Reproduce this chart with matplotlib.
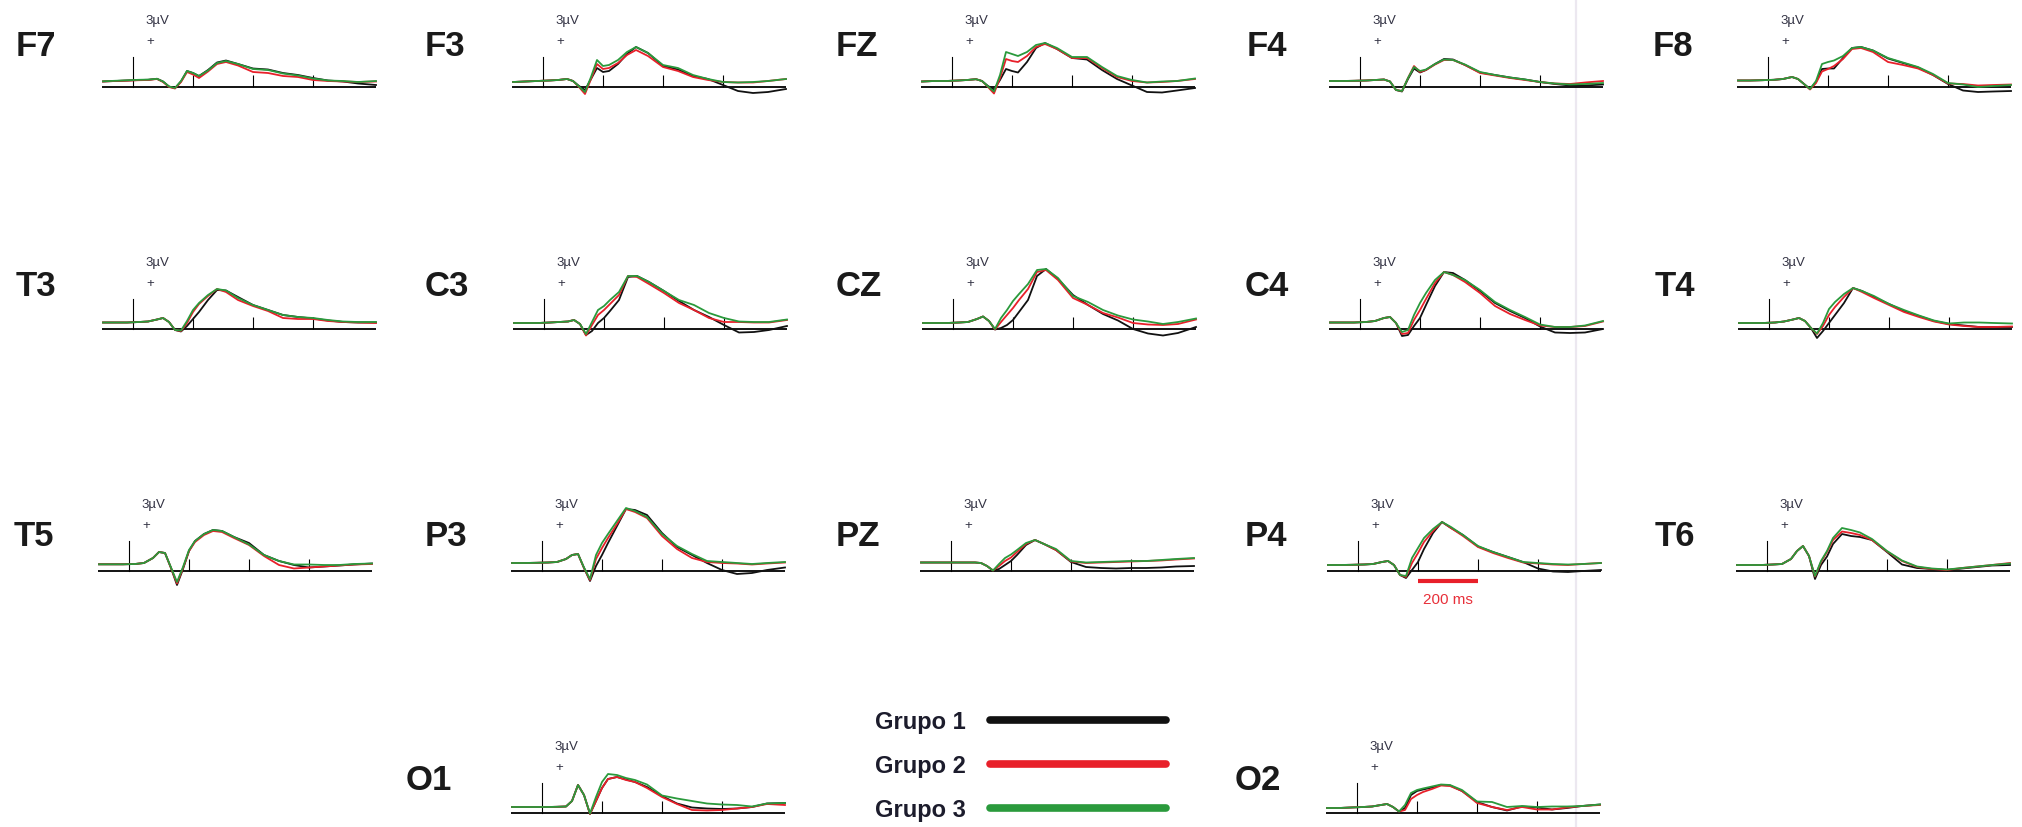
import matplotlib
matplotlib.use('Agg')
import matplotlib.pyplot as plt

W, H = 2022, 828
DPI = 100

# sample times (ms, relative to stimulus onset)
t_ms = [-100, -60, -20, 20, 50, 80, 100, 120, 140, 160, 180, 200, 220,
        250, 280, 310, 350, 400, 450, 500, 550, 600, 650, 700, 750, 810]

group_names = ['Grupo 1', 'Grupo 2', 'Grupo 3']
group_colors = ['#111111', '#e8202a', '#2a9a3c']

# grand-average ERPs in µV, one list per electrode
grupo1 = {
    'F7': [.55, .6, .65, .7, .72, .82, .55, .05, -.12, .55, 1.6, 1.4, 1.1, 1.7, 2.45, 2.65, 2.3, 1.85, 1.75, 1.4, 1.2, .9, .65, .55, .35, .2],
    'F3': [.5, .55, .6, .65, .7, .8, .6, .1, -.3, .8, 1.9, 1.5, 1.6, 2.3, 3.3, 4.0, 3.4, 2.1, 1.75, 1.1, .8, .2, -.4, -.6, -.5, -.2],
    'FZ': [.55, .6, .6, .65, .7, .78, .6, .1, -.25, .7, 1.8, 1.6, 1.45, 2.5, 3.9, 4.4, 3.8, 2.9, 2.75, 1.7, .8, .15, -.5, -.55, -.35, -.1],
    'F4': [.6, .6, .62, .65, .7, .75, .55, -.3, -.45, .8, 1.85, 1.45, 1.7, 2.3, 2.8, 2.75, 2.2, 1.45, 1.2, .95, .75, .5, .3, .15, .15, .25],
    'F8': [.65, .65, .68, .72, .8, 1.0, .8, .3, -.2, .5, 1.8, 1.85, 1.85, 2.9, 3.9, 4.0, 3.65, 2.85, 2.4, 1.95, 1.2, .3, -.35, -.5, -.45, -.4],
    'T3': [.65, .65, .65, .7, .75, .95, 1.1, .7, -.1, -.25, .3, 1.0, 1.7, 2.9, 3.9, 3.85, 3.2, 2.4, 1.9, 1.4, 1.2, 1.05, .85, .7, .65, .65],
    'C3': [.6, .6, .6, .65, .7, .75, .9, .5, -.6, -.2, .6, 1.1, 1.8, 2.9, 5.2, 5.3, 4.7, 3.8, 2.8, 1.9, 1.2, .4, -.35, -.3, -.1, .3],
    'CZ': [.6, .6, .6, .65, .7, 1.0, 1.25, .8, -.05, .1, .4, .9, 1.7, 2.9, 5.3, 6.0, 5.0, 3.4, 2.4, 1.5, .85, .0, -.45, -.65, -.4, .2],
    'C4': [.65, .65, .65, .7, .8, 1.1, 1.2, .6, -.7, -.6, .3, 1.1, 2.4, 4.3, 5.7, 5.6, 4.9, 3.8, 2.6, 1.8, 1.1, .25, -.35, -.4, -.35, 0],
    'T4': [.6, .6, .6, .65, .75, .95, 1.1, .8, .1, -.9, -.2, .6, 1.4, 2.6, 4.1, 3.8, 3.2, 2.5, 1.8, 1.3, .8, .5, .35, .2, .2, .2],
    'T5': [.67, .67, .67, .7, .8, 1.3, 1.9, 1.8, .3, -1.4, .2, 2.0, 3.0, 3.7, 4.1, 4.0, 3.4, 2.8, 1.6, 1.0, .6, .35, .45, .55, .65, .75],
    'P3': [.8, .8, .82, .85, .9, 1.2, 1.6, 1.7, .3, -1.0, .5, 1.6, 2.8, 4.5, 6.2, 6.1, 5.6, 3.8, 2.4, 1.6, .8, .1, -.3, -.2, .1, .35],
    'PZ': [.85, .85, .85, .85, .85, .85, .8, .5, .05, .2, .6, 1.0, 1.6, 2.6, 3.1, 2.7, 2.1, .9, .4, .3, .25, .3, .3, .35, .45, .5],
    'P4': [.6, .6, .62, .65, .7, .9, 1.0, .6, -.4, -.7, .1, .9, 2.2, 3.8, 4.9, 4.3, 3.6, 2.45, 1.9, 1.4, .9, .25, -.05, -.1, 0, .1],
    'T6': [.6, .6, .6, .65, .7, 1.2, 2.0, 2.5, 1.5, -.8, .6, 1.45, 2.7, 3.7, 3.5, 3.4, 3.1, 1.9, .65, .3, .2, .1, .25, .4, .55, .6],
    'O1': [.6, .6, .6, .6, .62, .65, 1.2, 2.8, 1.8, -.1, 1.2, 2.5, 3.4, 3.6, 3.35, 3.1, 2.6, 1.7, .95, .55, .45, .4, .45, .6, .95, 1.0],
    'O2': [.5, .5, .55, .6, .65, .8, .9, .6, .15, .5, 1.8, 2.2, 2.35, 2.55, 2.8, 2.75, 2.2, 1.1, .6, .25, .65, .55, .35, .5, .7, .85],
}
grupo2 = {
    'F7': [.55, .6, .63, .68, .7, .8, .5, .0, -.15, .5, 1.5, 1.25, .9, 1.55, 2.3, 2.5, 2.15, 1.5, 1.4, 1.1, 1.0, .7, .6, .55, .5, .55],
    'F3': [.5, .55, .6, .65, .7, .8, .6, .0, -.7, .8, 2.3, 1.8, 1.9, 2.4, 3.2, 3.7, 3.1, 2.0, 1.6, 1.0, .7, .5, .45, .45, .6, .8],
    'FZ': [.55, .6, .6, .65, .7, .78, .6, .0, -.65, .9, 2.8, 2.6, 2.5, 3.1, 4.0, 4.3, 3.8, 2.9, 2.9, 1.9, 1.0, .6, .45, .5, .6, .8],
    'F4': [.6, .6, .62, .65, .7, .75, .55, -.3, -.4, .9, 2.1, 1.5, 1.7, 2.25, 2.7, 2.7, 2.2, 1.4, 1.15, .9, .7, .5, .35, .3, .45, .6],
    'F8': [.65, .65, .68, .72, .8, 1.0, .8, .3, -.25, .4, 1.55, 1.8, 2.1, 2.8, 3.8, 3.9, 3.5, 2.5, 2.2, 1.85, 1.2, .35, .3, .15, .2, .25],
    'T3': [.65, .65, .65, .7, .75, .95, 1.1, .7, -.1, -.2, .6, 1.7, 2.5, 3.3, 4.0, 3.7, 2.9, 2.3, 1.8, 1.1, 1.0, 1.0, .8, .7, .65, .6],
    'C3': [.6, .6, .6, .65, .7, .75, .9, .5, -.65, .4, 1.4, 1.9, 2.5, 3.4, 5.3, 5.2, 4.5, 3.6, 2.6, 1.9, 1.1, .7, .7, .65, .65, .9],
    'CZ': [.6, .6, .6, .65, .7, 1.0, 1.25, .8, -.05, .7, 1.4, 2.1, 2.9, 4.0, 5.7, 5.9, 4.9, 3.1, 2.4, 1.6, 1.15, .6, .45, .4, .5, .95],
    'C4': [.65, .65, .65, .7, .8, 1.1, 1.2, .6, -.5, -.4, .9, 1.9, 3.0, 4.6, 5.7, 5.4, 4.7, 3.6, 2.3, 1.5, .9, .35, .2, .2, .3, .75],
    'T4': [.6, .6, .6, .65, .75, .95, 1.1, .8, .1, -.5, .3, 1.4, 2.2, 3.2, 4.1, 3.7, 3.1, 2.4, 1.7, 1.2, .75, .45, .3, .2, .2, .25],
    'T5': [.67, .67, .67, .7, .8, 1.3, 1.9, 1.8, .3, -1.25, .3, 2.0, 2.9, 3.6, 4.0, 3.9, 3.3, 2.6, 1.5, .6, .25, .35, .45, .55, .65, .7],
    'P3': [.8, .8, .82, .85, .9, 1.2, 1.6, 1.7, .3, -.9, 1.2, 2.3, 3.3, 4.7, 6.2, 5.9, 5.3, 3.5, 2.2, 1.3, .9, .8, .75, .65, .75, .85],
    'PZ': [.85, .85, .85, .85, .85, .85, .8, .5, .05, .5, 1.0, 1.35, 1.9, 2.7, 3.1, 2.7, 2.1, .95, .8, .85, .9, .95, 1.0, 1.05, 1.15, 1.25],
    'P4': [.6, .6, .62, .65, .7, .9, 1.0, .6, -.4, -.6, .8, 1.8, 2.9, 4.0, 4.9, 4.3, 3.5, 2.4, 1.8, 1.3, .85, .75, .65, .6, .7, .8],
    'T6': [.6, .6, .6, .65, .7, 1.2, 2.0, 2.5, 1.5, -.55, .9, 1.9, 3.1, 3.95, 3.8, 3.6, 3.1, 1.95, 1.0, .4, .2, .1, .3, .45, .6, .8],
    'O1': [.6, .6, .6, .6, .62, .65, 1.2, 2.8, 1.8, -.1, 1.2, 2.5, 3.4, 3.6, 3.3, 3.1, 2.5, 1.6, .9, .3, .25, .3, .45, .6, .9, .8],
    'O2': [.5, .5, .55, .6, .65, .8, .9, .6, .15, .3, 1.4, 1.8, 2.1, 2.4, 2.75, 2.7, 2.2, 1.0, .6, .3, .6, .35, .35, .55, .7, .8],
}
grupo3 = {
    'F7': [.57, .62, .67, .72, .74, .82, .55, .05, -.1, .6, 1.6, 1.4, 1.1, 1.65, 2.4, 2.6, 2.3, 1.8, 1.7, 1.35, 1.15, .85, .65, .6, .5, .6],
    'F3': [.5, .55, .6, .65, .7, .8, .6, .05, -.5, 1.0, 2.7, 2.1, 2.2, 2.7, 3.5, 4.0, 3.4, 2.2, 1.9, 1.2, .8, .5, .45, .5, .6, .8],
    'FZ': [.55, .6, .6, .65, .7, .78, .6, .05, -.45, 1.2, 3.5, 3.3, 3.1, 3.5, 4.2, 4.4, 3.9, 3.0, 3.0, 2.0, 1.1, .7, .45, .55, .6, .85],
    'F4': [.6, .6, .62, .65, .7, .75, .55, -.3, -.4, .9, 2.0, 1.6, 1.75, 2.3, 2.75, 2.7, 2.25, 1.5, 1.2, .95, .75, .5, .35, .25, .3, .4],
    'F8': [.65, .65, .68, .72, .8, 1.0, .8, .3, -.2, .6, 2.3, 2.5, 2.65, 3.1, 3.9, 4.0, 3.65, 2.9, 2.45, 2.0, 1.3, .4, .25, .0, .1, .2],
    'T3': [.65, .65, .65, .7, .75, .95, 1.1, .7, -.1, -.15, .8, 1.9, 2.6, 3.4, 4.0, 3.85, 3.1, 2.4, 1.9, 1.4, 1.2, 1.1, .9, .75, .7, .7],
    'C3': [.6, .6, .6, .65, .7, .75, .9, .5, -.5, .7, 1.9, 2.3, 2.9, 3.7, 5.3, 5.3, 4.7, 3.8, 2.9, 2.4, 1.6, 1.1, .75, .7, .7, .95],
    'CZ': [.6, .6, .6, .65, .7, 1.0, 1.25, .8, 0, 1.1, 1.9, 2.8, 3.5, 4.5, 5.9, 6.0, 5.1, 3.3, 2.7, 1.9, 1.35, .95, .75, .5, .7, 1.05],
    'C4': [.65, .65, .65, .7, .8, 1.1, 1.2, .6, -.3, -.1, 1.4, 2.6, 3.6, 4.9, 5.7, 5.4, 4.9, 3.9, 2.7, 1.9, 1.2, .45, .2, .2, .35, .8],
    'T4': [.6, .6, .6, .65, .75, .95, 1.1, .8, .1, -.45, .6, 2.0, 2.7, 3.5, 4.1, 3.8, 3.3, 2.5, 1.9, 1.35, .85, .55, .65, .65, .6, .55],
    'T5': [.67, .67, .67, .7, .8, 1.3, 1.9, 1.8, .35, -1.1, .4, 2.1, 3.0, 3.7, 4.1, 4.0, 3.4, 2.65, 1.6, 1.0, .65, .65, .6, .6, .7, .75],
    'P3': [.8, .8, .82, .85, .9, 1.2, 1.6, 1.7, .35, -.8, 1.6, 2.8, 3.7, 5.0, 6.3, 6.0, 5.4, 3.7, 2.5, 1.7, 1.0, .9, .8, .7, .8, .9],
    'PZ': [.85, .85, .85, .85, .85, .85, .8, .5, .05, .7, 1.3, 1.65, 2.1, 2.8, 3.1, 2.7, 2.2, 1.0, .85, .9, .95, 1.0, 1.0, 1.1, 1.2, 1.3],
    'P4': [.6, .6, .62, .65, .7, .9, 1.0, .6, -.4, -.5, 1.3, 2.3, 3.3, 4.2, 4.9, 4.4, 3.6, 2.5, 1.9, 1.4, .9, .8, .7, .65, .7, .8],
    'T6': [.6, .6, .6, .65, .7, 1.2, 2.0, 2.5, 1.5, -.5, 1.0, 2.0, 3.3, 4.3, 4.1, 3.85, 3.2, 2.0, 1.05, .45, .25, .15, .3, .45, .6, .75],
    'O1': [.6, .6, .6, .6, .62, .65, 1.2, 2.8, 1.8, -.05, 1.6, 3.1, 3.9, 3.8, 3.5, 3.3, 2.85, 1.75, 1.45, 1.2, .95, .85, .8, .65, .95, 1.0],
    'O2': [.5, .5, .55, .6, .65, .8, .9, .6, .15, .8, 2.0, 2.3, 2.45, 2.65, 2.85, 2.8, 2.3, 1.15, 1.1, .6, .7, .6, .65, .65, .7, .85],
}
groups = [grupo1, grupo2, grupo3]

tick_ms = [200, 400, 600]
cal_uv = 3

# layout in pixels: (electrode, stimulus x, baseline y, label x, label y)
layout = [
    ('F7', 133, 88, 16, 46), ('F3', 543, 88, 425, 46), ('FZ', 952, 88, 836, 46),
    ('F4', 1360, 88, 1247, 46), ('F8', 1768, 88, 1653, 46),
    ('T3', 133, 330, 16, 287), ('C3', 544, 330, 425, 287), ('CZ', 953, 330, 836, 287),
    ('C4', 1360, 330, 1245, 287), ('T4', 1769, 330, 1655, 287),
    ('T5', 129, 572, 14, 537), ('P3', 542, 572, 425, 537), ('PZ', 951, 572, 836, 537),
    ('P4', 1358, 572, 1245, 537), ('T6', 1767, 572, 1655, 537),
    ('O1', 542, 814, 406, 781), ('O2', 1357, 814, 1235, 781),
]

PX_MS = 0.3   # horizontal scale
PX_UV = 10.0  # vertical scale
T0, T1 = -110, 820
V0, V1 = -3.5, 7.5

fig = plt.figure(figsize=(W / DPI, H / DPI), dpi=DPI)

# overlay in pixel coordinates for separator and legend
ov = fig.add_axes([0, 0, 1, 1], zorder=0)
ov.set_xlim(0, W)
ov.set_ylim(H, 0)
ov.axis('off')
ov.axvline(1576, color='#ece8f0', lw=1.6)

panels = {}
for name, sx, by, lx, ly in layout:
    left = sx + T0 * PX_MS
    bottom = H - (by - V0 * PX_UV)
    ax = fig.add_axes([left / W, bottom / H, (T1 - T0) * PX_MS / W, (V1 - V0) * PX_UV / H], zorder=1)
    ax.set_xlim(T0, T1)
    ax.set_ylim(V0, V1)
    ax.axis('off')
    panels[name] = ax

    ax.plot([-103, 810], [0, 0], color='black', lw=1.3, solid_capstyle='butt')
    ax.plot([0, 0], [0, cal_uv], color='black', lw=0.8)
    ax.vlines(tick_ms, 0, 1.2, color='black', lw=0.8)
    for g, col in zip(groups, group_colors):
        ax.plot(t_ms, g[name], color=col, lw=1.3)

    ax.text(43, 6.7, f'{cal_uv}µV', fontsize=9.5, color='#333344', va='center', ha='left',
            family='Liberation Sans')
    ax.text(57, 4.6, '+', fontsize=9.5, color='#333344', va='center', ha='center',
            family='Liberation Sans')

    fig.text(lx / W, 1 - ly / H, name, fontsize=25, fontweight='bold', color='#1a1a1a',
             va='center', ha='left', family='Liberation Sans')

# 200 ms scale bar under P4
ax = panels['P4']
ax.plot([200, 400], [-1.0, -1.0], color='#e8202a', lw=3, solid_capstyle='butt')
ax.text(300, -2.8, '200 ms', fontsize=11, color='#e8303a', ha='center', va='center',
        family='Liberation Sans')

# legend
for i, (label, col) in enumerate(zip(group_names, group_colors)):
    y = [721, 765, 809][i]
    ov.text(875, y + 2, label, fontsize=17, fontweight='bold', color='#1c1c2c',
            ha='left', va='center', family='Liberation Sans')
    ov.plot([990, 1166], [y, y], color=col, lw=5.5, solid_capstyle='round')

fig.savefig('out.png', dpi=DPI, facecolor='white')
